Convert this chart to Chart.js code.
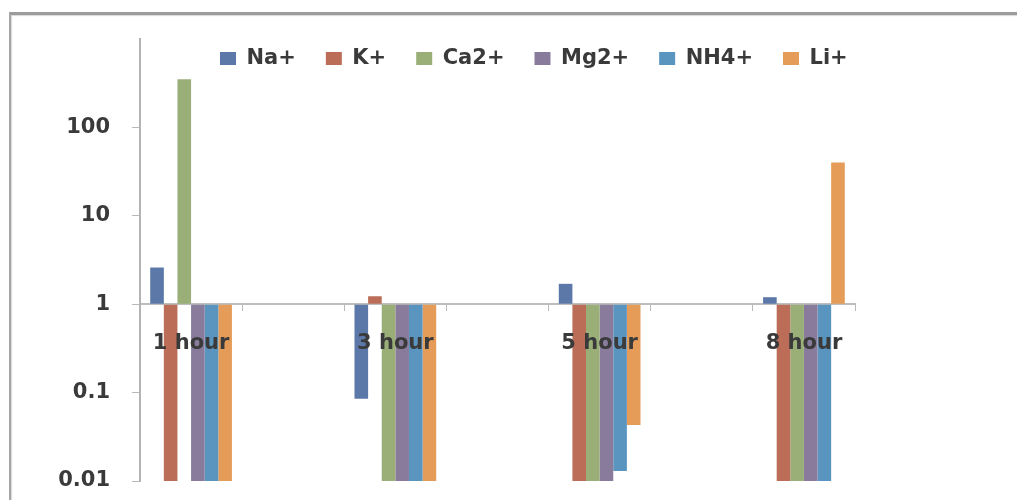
<!DOCTYPE html>
<html>
<head>
<meta charset="utf-8">
<script src="https://cdn.jsdelivr.net/npm/chart.js@4.4.0/dist/chart.umd.min.js"></script>
<style>
    html, body { margin: 0; padding: 0; background: #fff; }
    #wrap { position: relative; width: 1017px; height: 500px; overflow: hidden; }
    #frame {
        position: absolute; left: 9px; top: 12px; width: 1100px; height: 600px;
        border-left: 2px solid #a6a6a6; border-top: 3px solid #9c9c9c;
        box-shadow: inset 1px 1px 1px #d8d8d8;
    }
    #chart { position: absolute; left: 0; top: 0; }
</style>
</head>
<body>
<div id="wrap">
    <div id="frame"></div>
    <canvas id="chart" width="1017" height="500"></canvas>
</div>
<script>
// ==================== DATOS ====================

// categorías (las vacías son huecos entre horas)
const categorias = ['1 hour', '', '3 hour', '', '5 hour', '', '8 hour'];

const naVals  = [2.6,  null, 0.085, null, 1.7,   null, 1.2];
const kVals   = [0.01, null, 1.23,  null, 0.01,  null, 0.01];
const caVals  = [350,  null, 0.01,  null, 0.01,  null, 0.01];
const mgVals  = [0.01, null, 0.01,  null, 0.01,  null, 0.01];
const nh4Vals = [0.01, null, 0.01,  null, 0.013, null, 0.01];
const liVals  = [0.01, null, 0.01,  null, 0.043, null, 40];

const ticksY = [0.01, 0.1, 1, 10, 100];

// ==================== GRÁFICO ====================

const fuente = { family: 'DejaVu Sans', size: 21, weight: 'bold' };
const colorTexto = '#3a3a3a';

const series = [
    { label: 'Na+',  data: naVals,  color: '#5b78a9' },
    { label: 'K+',   data: kVals,   color: '#bb6d57' },
    { label: 'Ca2+', data: caVals,  color: '#9aae78' },
    { label: 'Mg2+', data: mgVals,  color: '#887b9c' },
    { label: 'NH4+', data: nh4Vals, color: '#5a95c0' },
    { label: 'Li+',  data: liVals,  color: '#e49c58' },
];

// La leyenda se dibuja encima del área del gráfico (como en Excel), sin ocupar espacio
const leyendaEncima = {
    id: 'leyendaEncima',
    beforeLayout(chart) {
        const lg = chart.legend;
        if (lg && !lg._parcheada) {
            const fitOrig = lg.fit.bind(lg);
            lg.fit = function () {
                fitOrig();
                this._altoReal = this.height;
                this.height = 0;
            };
            lg._parcheada = true;
        }
    },
    afterLayout(chart) {
        const lg = chart.legend;
        lg.left = 190;
        lg.right = 900;
        lg.width = lg.right - lg.left;
        lg.top = 18;
        lg.height = lg._altoReal;
        lg.bottom = lg.top + lg.height;
    }
};

new Chart(document.getElementById('chart'), {
    type: 'bar',
    data: {
        labels: categorias,
        datasets: series.map(s => ({
            label: s.label,
            data: s.data,
            backgroundColor: s.color,
            borderWidth: 0,
            base: 1,
            categoryPercentage: 0.8,
            barPercentage: 1.0,
        }))
    },
    plugins: [leyendaEncima],
    options: {
        responsive: false,
        animation: false,
        layout: { padding: { top: 39, bottom: 19, right: 162, left: 0 } },
        plugins: {
            legend: {
                position: 'top',
                align: 'start',
                labels: {
                    font: fuente,
                    color: colorTexto,
                    boxWidth: 16,
                    boxHeight: 13,
                    padding: 30,
                }
            },
            tooltip: { enabled: false }
        },
        scales: {
            x: {
                position: { y: 1 },
                afterFit: scale => { scale.height = 0; },
                grid: {
                    offset: true,
                    drawOnChartArea: false,
                    drawTicks: true,
                    tickLength: 6,
                    color: '#b8b8b8',
                    lineWidth: 1,
                },
                border: { color: '#bdbdbd', width: 2 },
                ticks: { font: fuente, color: colorTexto, padding: 21, maxRotation: 0, autoSkip: false, z: 1 }
            },
            y: {
                type: 'logarithmic',
                min: 0.01,
                max: 1000,
                afterBuildTicks: scale => { scale.ticks = ticksY.map(v => ({ value: v })); },
                afterFit: scale => {
                    scale.width = 140;
                    scale.paddingTop = 0;
                    scale.paddingBottom = 0;
                },
                grid: {
                    drawOnChartArea: false,
                    tickLength: 8,
                    color: '#b8b8b8',
                },
                border: { color: '#b3b3b3', width: 2 },
                ticks: {
                    font: fuente,
                    color: colorTexto,
                    padding: 22,
                    callback: v => String(v)
                }
            }
        }
    }
});
</script>
</body>
</html>
